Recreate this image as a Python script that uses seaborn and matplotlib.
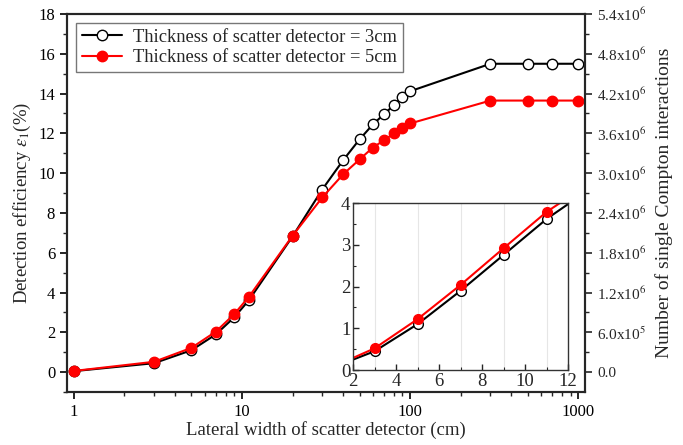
import numpy as np
import pandas as pd
import matplotlib
matplotlib.use("Agg")
import matplotlib.pyplot as plt
from matplotlib.ticker import FixedLocator, LogLocator, NullFormatter, MultipleLocator
import seaborn as sns

width_cm = [1, 3, 5, 7, 9, 11, 20, 30, 40, 50, 60, 70, 80, 90, 100, 300, 500, 700, 1000]
eff_3cm = [0.05, 0.45, 1.10, 1.90, 2.76, 3.62, 6.83, 9.18, 10.66, 11.70, 12.45, 12.97, 13.42, 13.84, 14.12, 15.50, 15.50, 15.50, 15.50]
eff_5cm = [0.06, 0.52, 1.22, 2.04, 2.92, 3.79, 6.86, 8.78, 9.95, 10.69, 11.29, 11.66, 12.00, 12.29, 12.50, 13.65, 13.65, 13.65, 13.65]
label_3 = "Thickness of scatter detector = 3cm"
label_5 = "Thickness of scatter detector = 5cm"
right_ticks = [0.0, 6.0e5, 1.2e6, 1.8e6, 2.4e6, 3.0e6, 3.6e6, 4.2e6, 4.8e6, 5.4e6]
right_labels = ["0.0", r"6.0x10$^{5}$", r"1.2x10$^{6}$", r"1.8x10$^{6}$", r"2.4x10$^{6}$",
                r"3.0x10$^{6}$", r"3.6x10$^{6}$", r"4.2x10$^{6}$", r"4.8x10$^{6}$", r"5.4x10$^{6}$"]

sns.set_style("ticks")
plt.rcParams["font.family"] = ["Liberation Serif", "DejaVu Serif"]
plt.rcParams["mathtext.fontset"] = "stix"

df = pd.DataFrame({"x": width_cm * 2,
                   "y": eff_3cm + eff_5cm,
                   "s": [label_3] * len(width_cm) + [label_5] * len(width_cm)})

fig = plt.figure(figsize=(6.83, 4.45), dpi=100)
ax = fig.add_axes([0.098, 0.119, 0.759, 0.8495])

def draw(a, ms):
    sns.lineplot(data=df[df.s == label_3], x="x", y="y", ax=a, color="black", lw=1.5,
                 marker="o", markersize=ms, markerfacecolor="white", markeredgecolor="black",
                 markeredgewidth=1.0, label=label_3, estimator=None, sort=False)
    sns.lineplot(data=df[df.s == label_5], x="x", y="y", ax=a, color="red", lw=1.5,
                 marker="o", markersize=ms, markerfacecolor="red", markeredgecolor="red",
                 markeredgewidth=1.0, label=label_5, estimator=None, sort=False)

draw(ax, 7.5)
ax.set_xscale("log")
ax.set_xlim(0.91, 1100)
ax.set_ylim(-1, 18)
ax.set_xticks([1, 10, 100, 1000])
ax.set_xticklabels(["1", "10", "100", "1000"])
ax.xaxis.set_minor_locator(LogLocator(base=10, subs=np.arange(2, 10)))
ax.xaxis.set_minor_formatter(NullFormatter())
ax.set_yticks(np.arange(0, 19, 2))
ax.yaxis.set_minor_locator(MultipleLocator(1))
ax.tick_params(which="major", direction="out", length=5, width=1.2, labelsize=12, colors="black")
ax.tick_params(which="minor", direction="out", length=3, width=1.0)
ax.tick_params(axis="y", which="both", right=False)
ax.tick_params(axis="x", which="both", top=False)
for sp in ax.spines.values():
    sp.set_visible(True)
    sp.set_linewidth(1.5)
    sp.set_color("black")
ax.set_xlabel("Lateral width of scatter detector (cm)", fontsize=13.5, labelpad=1)
ax.set_ylabel(r"Detection efficiency $\varepsilon_1$(%)", fontsize=13.5, labelpad=4)

leg = ax.legend(loc="upper left", fontsize=13.3, frameon=True, fancybox=False,
                edgecolor="#555555", borderpad=0.3, handlelength=2.2, labelspacing=0.2,
                borderaxespad=0.5, handletextpad=0.6)
leg.get_frame().set_linewidth(1.0)

ax2 = ax.twinx()
ax2.set_ylim(-3e5, 5.4e6)
ax2.set_yticks(right_ticks)
ax2.set_yticklabels(right_labels)
ax2.yaxis.set_minor_locator(FixedLocator(np.arange(3e5, 5.4e6, 6e5)))
ax2.tick_params(which="major", direction="out", length=5, width=1.2, labelsize=11)
ax2.tick_params(which="minor", direction="out", length=3, width=1.0)
ax2.set_ylabel("Number of single Compton interactions", fontsize=14, labelpad=6)
for sp in ax2.spines.values():
    sp.set_linewidth(1.5)

# inset
ins = fig.add_axes([0.517, 0.1685, 0.315, 0.3753])
for xv in [3, 5, 7, 9, 11]:
    ins.axvline(xv, color="#e6e6e6", lw=0.8, zorder=0)
draw(ins, 7)
ins.set_xlim(2, 12)
ins.set_ylim(0, 4)
ins.set_xticks([2, 4, 6, 8, 10, 12])
ins.set_yticks([0, 1, 2, 3, 4])
ins.yaxis.set_minor_locator(MultipleLocator(0.5))
ins.xaxis.set_minor_locator(MultipleLocator(1))
ins.tick_params(which="major", direction="in", length=4, width=1.0, labelsize=13.5, pad=2)
ins.tick_params(which="minor", direction="in", length=2, width=0.8)
ins.tick_params(top=False, right=False, which="both")
ins.set_xlabel("")
ins.set_ylabel("")
if ins.get_legend() is not None:
    ins.get_legend().remove()
for sp in ins.spines.values():
    sp.set_linewidth(1.0)
    sp.set_color("#333333")

fig.savefig("out.png", dpi=100)
